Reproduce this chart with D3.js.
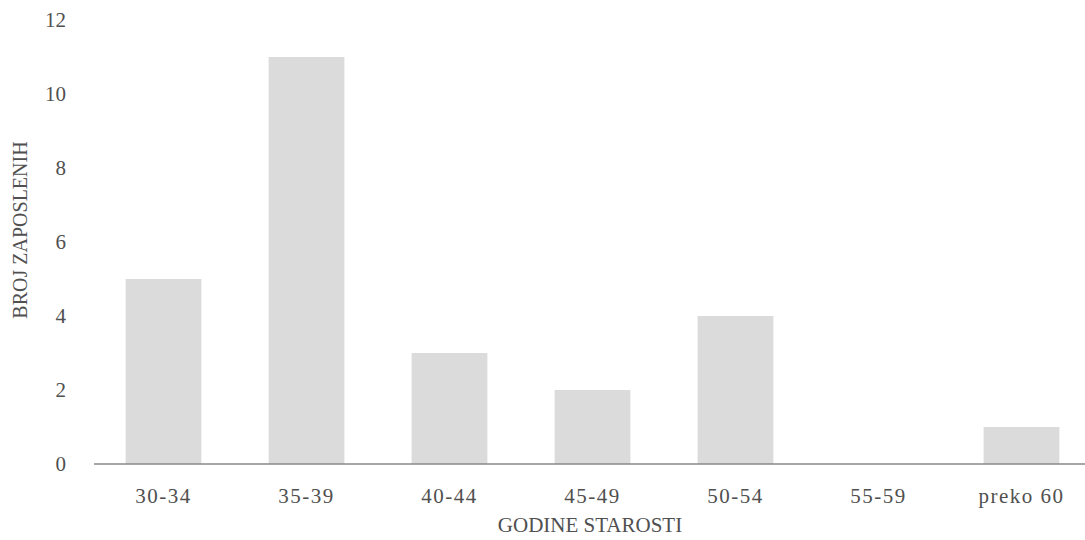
<!DOCTYPE html>
<html><head><meta charset="utf-8">
<script src="https://cdn.jsdelivr.net/npm/d3@7"></script>
<style>
body{margin:0;background:#fff;}
text{font-family:"Liberation Serif","DejaVu Serif",serif;}
</style></head>
<body>
<svg id="c" width="1085" height="540"></svg>
<script>
const categories = ["30-34","35-39","40-44","45-49","50-54","55-59","preko 60"];
const values = [5, 11, 3, 2, 4, 0, 1];
const yTicks = [0, 2, 4, 6, 8, 10, 12];
const xTitle = "GODINE STAROSTI";
const yTitle = "BROJ ZAPOSLENIH";

const svg = d3.select("#c");
const plotLeft = 92, plotRight = 1093, plotTop = 20, plotBottom = 464;

const x = d3.scaleBand().domain(categories).range([plotLeft, plotRight]).paddingInner(0.47).paddingOuter(0.235);
const y = d3.scaleLinear().domain([0, 12]).range([plotBottom, plotTop]);

svg.append("g").selectAll("rect").data(values).join("rect")
  .attr("x", (d,i) => x(categories[i]))
  .attr("width", x.bandwidth())
  .attr("y", d => y(d))
  .attr("height", d => y(0) - y(d))
  .attr("fill", "#dbdbdb");

// x axis line
svg.append("line").attr("x1", 94).attr("x2", 1085).attr("y1", y(0)).attr("y2", y(0))
  .attr("stroke", "#8a8a8a").attr("stroke-width", 1.6);

// y axis
const yAxis = d3.axisLeft(y).tickValues(yTicks).tickSize(0).tickPadding(0);
const gy = svg.append("g").attr("transform", "translate(66,0)").call(yAxis);
gy.select(".domain").remove();
gy.selectAll("text").attr("font-size", 21).attr("fill", "#505050").attr("font-family", "'Liberation Serif',serif");

// x axis labels
const xAxis = d3.axisBottom(x).tickSize(0).tickPadding(0);
const gx = svg.append("g").attr("transform", `translate(0,${y(0)+24})`).call(xAxis);
gx.select(".domain").remove();
gx.selectAll("text").attr("font-size", 21).attr("letter-spacing", 1.5).attr("fill", "#505050").attr("font-family", "'Liberation Serif',serif");

svg.append("text").attr("x", 590).attr("y", 532).attr("text-anchor", "middle")
  .attr("font-size", 21).attr("fill", "#505050").text(xTitle);

svg.append("text").attr("transform", "translate(27,230) rotate(-90)").attr("text-anchor", "middle")
  .attr("font-size", 20).attr("fill", "#505050").text(yTitle);
</script>
</body></html>
